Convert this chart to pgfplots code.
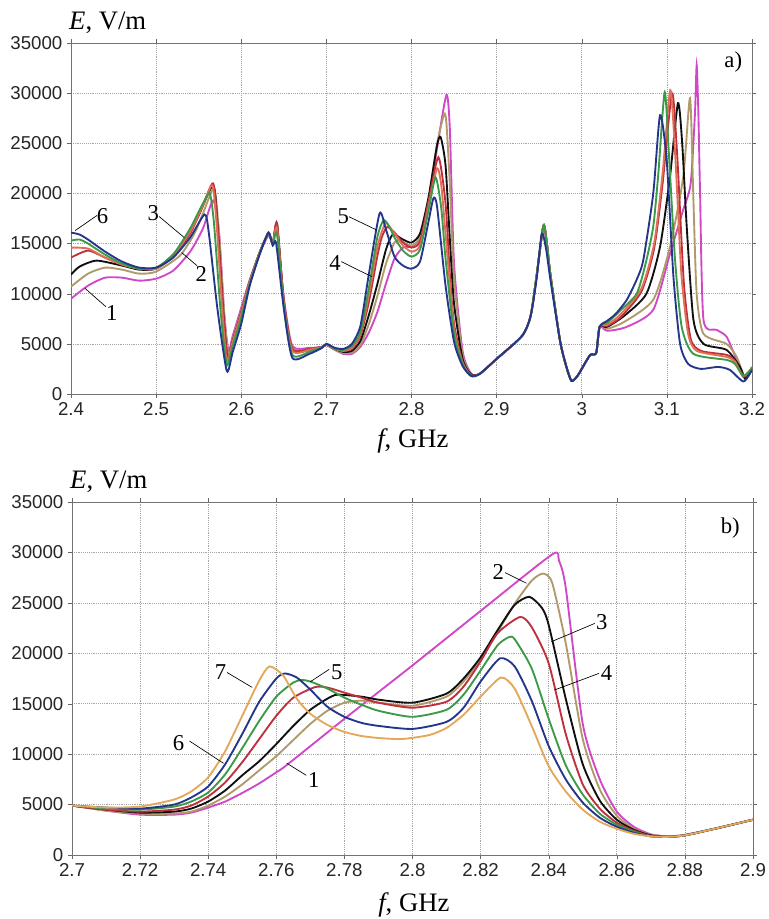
\documentclass[border=0pt]{standalone}
\usepackage{fontspec}
\setmainfont{Liberation Serif}
\newfontfamily\arial{Liberation Sans}
\usepackage{pgfplots}
\pgfplotsset{compat=1.18}

\definecolor{cmag}{HTML}{D048C8}
\definecolor{ckha}{HTML}{B09A6A}
\definecolor{cblk}{HTML}{101010}
\definecolor{cred}{HTML}{C0303C}
\definecolor{csal}{HTML}{E07058}
\definecolor{cgrn}{HTML}{3A9A48}
\definecolor{cblu}{HTML}{24358C}
\definecolor{cora}{HTML}{E4A85A}

\pgfplotsset{
  panel/.style={
    scale only axis, anchor=south west, width=510.75pt,
    clip mode=individual,
    axis line style={black!55, line width=0.7pt},
    grid=major, grid style={densely dotted, black!35, line width=0.5pt},
    tick align=outside, major tick length=3pt, tick style={black!60},
    ticklabel style={font=\arial\fontsize{14}{14}\selectfont, text=black!85},
    /pgf/number format/assume math mode=true,
    /pgf/number format/1000 sep={},
    scaled ticks=false,
    ymin=0, ymax=35000, ytick={0,5000,...,35000},
  },
  curve/.style={line width=1.4pt, smooth, tension=0.4, mark=none},
}
\tikzset{
  lab/.style={font=\fontsize{17}{17}\selectfont, inner sep=0pt},
  albl/.style={font=\fontsize{20}{20}\selectfont, inner sep=0pt},
  lead/.style={black, line width=0.5pt},
}

\begin{document}
\begin{tikzpicture}
\path[use as bounding box] (0,0) rectangle (576pt,689.25pt);

% ---------------- a) ----------------
\begin{axis}[panel, at={(53.25pt,393.75pt)}, height=263.25pt,
  xmin=2.4, xmax=3.2, xtick={2.4,2.5,2.6,2.7,2.8,2.9,3.0,3.1,3.2}]

% 1
\addplot[curve, cmag] coordinates {
(2.40,9500)(2.42,10800)(2.44,11600)(2.46,11600)(2.48,11300)(2.50,11500)(2.52,12300)(2.54,14200)(2.555,16500)(2.567,19300)(2.574,16000)(2.58,8000)(2.585,4300)(2.59,5800)(2.60,8600)(2.61,11400)(2.622,14100)(2.632,15800)(2.637,15000)(2.642,16200)(2.65,9600)(2.66,4800)(2.68,4600)(2.695,4700)(2.70,4900)(2.71,4400)(2.72,4000)(2.73,4000)(2.74,4700)(2.75,6150)(2.76,8200)(2.77,11000)(2.78,13500)(2.79,14600)(2.80,14700)(2.81,15500)(2.82,19000)(2.83,24500)(2.841,29800)(2.845,26500)(2.85,13000)(2.86,4300)(2.87,2050)(2.88,2000)(2.90,3500)(2.93,5800)(2.94,7800)(2.947,11800)(2.955,16800)(2.959,15000)(2.963,12000)(2.9745,5300)(2.982,2700)(2.988,1300)(2.995,1800)(3.002,2800)(3.01,3900)(3.017,4100)(3.021,6700)(3.03,6300)(3.053,6700)(3.084,8400)(3.1037,14000)(3.1193,18400)(3.128,21000)(3.133,28000)(3.135,32800)(3.137,28000)(3.139,20000)(3.143,7400)(3.1585,6400)(3.1702,5700)(3.182,3400)(3.192,1600)(3.20,2700)
};
% 2
\addplot[curve, ckha] coordinates {
(2.40,10700)(2.42,12000)(2.44,12600)(2.46,12400)(2.48,12000)(2.50,12200)(2.528,13800)(2.545,16000)(2.555,18000)(2.568,20500)(2.573,17000)(2.58,8000)(2.585,3800)(2.59,5500)(2.60,8300)(2.61,11300)(2.622,14200)(2.632,15900)(2.637,15000)(2.642,16800)(2.65,9400)(2.66,4600)(2.68,4500)(2.695,4700)(2.70,4900)(2.71,4400)(2.72,4100)(2.73,4100)(2.74,4900)(2.75,7000)(2.76,9800)(2.77,13000)(2.78,15100)(2.785,15300)(2.80,14800)(2.81,15700)(2.82,19400)(2.83,24900)(2.8383,27900)(2.841,27000)(2.845,21000)(2.85,11500)(2.86,3900)(2.87,2000)(2.88,2000)(2.90,3500)(2.93,5800)(2.94,7800)(2.947,11800)(2.955,16800)(2.959,15000)(2.963,12000)(2.9745,5300)(2.982,2700)(2.988,1300)(2.995,1800)(3.002,2800)(3.01,3900)(3.017,4100)(3.021,6700)(3.03,6500)(3.05,7200)(3.084,9400)(3.1037,14700)(3.1193,21700)(3.1272,29500)(3.1312,19300)(3.135,10000)(3.143,6000)(3.17,5000)(3.182,3700)(3.192,1600)(3.20,2700)
};
% 3
\addplot[curve, cblk] coordinates {
(2.40,11900)(2.41,12700)(2.43,13300)(2.46,12800)(2.48,12400)(2.50,12500)(2.52,13900)(2.535,15500)(2.55,17800)(2.567,20800)(2.572,17000)(2.579,8000)(2.584,3500)(2.59,5300)(2.60,8100)(2.61,11200)(2.622,14200)(2.632,16000)(2.637,15000)(2.642,17000)(2.65,9200)(2.66,4400)(2.68,4400)(2.695,4700)(2.70,4900)(2.71,4500)(2.72,4200)(2.73,4300)(2.74,5300)(2.75,7900)(2.76,11000)(2.77,14400)(2.778,15900)(2.79,15400)(2.80,15100)(2.81,16000)(2.82,19600)(2.83,24800)(2.8343,25600)(2.84,22800)(2.845,15500)(2.85,9000)(2.86,3500)(2.87,1950)(2.88,2000)(2.90,3500)(2.93,5800)(2.94,7800)(2.947,11800)(2.955,16800)(2.959,15000)(2.963,12000)(2.9745,5300)(2.982,2700)(2.988,1300)(2.995,1800)(3.002,2800)(3.01,3900)(3.017,4100)(3.021,6700)(3.03,6700)(3.05,7800)(3.076,10000)(3.092,14700)(3.1037,21700)(3.113,29000)(3.118,25000)(3.1233,16700)(3.1312,7400)(3.143,5000)(3.17,4400)(3.1858,2700)(3.192,1500)(3.20,2500)
};
% 4
\addplot[curve, cred] coordinates {
(2.40,13600)(2.42,14300)(2.44,13600)(2.46,12900)(2.48,12500)(2.50,12500)(2.52,13700)(2.54,16000)(2.555,18800)(2.567,21000)(2.572,17000)(2.579,8000)(2.584,3500)(2.59,5300)(2.60,8100)(2.61,11200)(2.622,14200)(2.632,16000)(2.637,15000)(2.642,17000)(2.65,9200)(2.66,4500)(2.68,4500)(2.695,4700)(2.70,4900)(2.71,4500)(2.72,4300)(2.73,4500)(2.74,5800)(2.75,9200)(2.76,13800)(2.765,15600)(2.7714,16650)(2.78,16100)(2.79,15100)(2.80,14600)(2.81,15200)(2.82,19200)(2.8316,23600)(2.84,19000)(2.845,12000)(2.85,7000)(2.86,3200)(2.87,1900)(2.88,2000)(2.90,3500)(2.93,5800)(2.94,7800)(2.947,11800)(2.955,16800)(2.959,15000)(2.963,12000)(2.9745,5300)(2.982,2700)(2.988,1300)(2.995,1800)(3.002,2800)(3.01,3900)(3.017,4100)(3.021,6700)(3.03,6800)(3.045,7600)(3.07,10200)(3.085,14500)(3.095,21000)(3.106,30000)(3.112,24000)(3.12,11000)(3.128,5500)(3.14,4300)(3.17,3900)(3.18,3300)(3.19,1700)(3.20,2600)
};
% extra curve
\addplot[curve, csal] coordinates {
(2.40,14600)(2.42,14500)(2.44,13600)(2.46,12900)(2.48,12500)(2.50,12500)(2.52,13800)(2.54,16200)(2.555,18800)(2.566,20800)(2.571,17000)(2.578,8000)(2.583,3300)(2.59,5200)(2.60,8000)(2.61,11200)(2.622,14200)(2.632,16000)(2.637,15000)(2.642,16500)(2.65,9000)(2.66,4300)(2.68,4400)(2.695,4700)(2.70,4900)(2.71,4500)(2.72,4300)(2.73,4600)(2.74,6000)(2.75,9900)(2.76,14700)(2.769,17000)(2.775,16600)(2.78,16000)(2.79,14800)(2.80,14200)(2.81,14800)(2.82,18700)(2.83,22500)(2.835,20800)(2.84,16000)(2.85,6500)(2.86,3100)(2.87,1800)(2.88,2000)(2.90,3500)(2.93,5800)(2.94,7800)(2.947,11800)(2.955,16800)(2.959,15000)(2.963,12000)(2.9745,5300)(2.982,2700)(2.988,1300)(2.995,1800)(3.002,2800)(3.01,3900)(3.017,4100)(3.021,6700)(3.03,6900)(3.045,7900)(3.07,10500)(3.085,15000)(3.095,22000)(3.104,30300)(3.11,23500)(3.117,12000)(3.125,6000)(3.135,4300)(3.17,3700)(3.18,3200)(3.19,1800)(3.20,2600)
};
% 5
\addplot[curve, cgrn] coordinates {
(2.40,15300)(2.41,15400)(2.42,15000)(2.44,13900)(2.46,13000)(2.48,12500)(2.50,12600)(2.52,13900)(2.54,16500)(2.555,19000)(2.563,20000)(2.568,17000)(2.576,8000)(2.583,2900)(2.59,4800)(2.60,7600)(2.61,11000)(2.622,14100)(2.632,16100)(2.637,14900)(2.642,16000)(2.65,8800)(2.66,3900)(2.68,4200)(2.695,4700)(2.70,5000)(2.71,4500)(2.72,4400)(2.73,4800)(2.74,6200)(2.75,10600)(2.76,15700)(2.7675,17350)(2.775,16500)(2.78,15600)(2.79,14300)(2.80,13700)(2.81,14400)(2.82,18300)(2.8283,21600)(2.835,18500)(2.84,13500)(2.85,6000)(2.86,3000)(2.87,1800)(2.88,2000)(2.90,3500)(2.93,5800)(2.94,7800)(2.947,11800)(2.955,16800)(2.959,15000)(2.963,12000)(2.9745,5300)(2.982,2700)(2.988,1300)(2.995,1800)(3.002,2800)(3.01,3900)(3.017,4100)(3.021,6700)(3.03,7100)(3.045,8300)(3.0645,10000)(3.075,13000)(3.084,16700)(3.09,22000)(3.0975,30100)(3.103,23000)(3.1096,13400)(3.1174,6700)(3.1312,4000)(3.17,3400)(3.18,3000)(3.19,1800)(3.20,2600)
};
% 6
\addplot[curve, cblu] coordinates {
(2.40,16100)(2.41,15900)(2.42,15400)(2.44,14200)(2.46,13200)(2.48,12600)(2.50,12600)(2.52,13600)(2.54,15600)(2.557,17900)(2.562,16000)(2.572,8500)(2.583,2300)(2.59,4200)(2.60,7000)(2.61,10800)(2.622,14000)(2.632,16100)(2.637,14800)(2.641,15000)(2.65,8500)(2.66,3600)(2.68,4000)(2.695,4600)(2.70,5000)(2.71,4600)(2.72,4500)(2.73,5000)(2.74,6800)(2.75,12000)(2.7625,18000)(2.77,16400)(2.78,13700)(2.79,12800)(2.80,12500)(2.81,13200)(2.82,17200)(2.8257,19500)(2.83,18700)(2.84,10800)(2.85,5200)(2.86,2800)(2.87,1800)(2.88,2000)(2.90,3500)(2.93,5800)(2.94,7800)(2.947,11500)(2.953,16000)(2.958,14500)(2.963,11500)(2.9745,5300)(2.982,2700)(2.988,1300)(2.995,1800)(3.002,2800)(3.01,3900)(3.017,4100)(3.021,6700)(3.03,7300)(3.04,8000)(3.053,9400)(3.065,11500)(3.0724,13400)(3.084,20000)(3.092,27800)(3.0998,23300)(3.1077,11700)(3.1155,5000)(3.125,3000)(3.14,2500)(3.16,2700)(3.174,2400)(3.19,1250)(3.20,2400)
};

\node[lab] at (axis cs:2.437,17700) {6};
\draw[lead] (axis cs:2.405,16300) -- (axis cs:2.4305,17800);
\node[lab] at (axis cs:2.4478,8050) {1};
\draw[lead] (axis cs:2.4164,10540) -- (axis cs:2.441,8700);
\node[lab] at (axis cs:2.4967,18020) {3};
\draw[lead] (axis cs:2.5035,17700) -- (axis cs:2.533,15600);
\node[lab] at (axis cs:2.553,11950) {2};
\draw[lead] (axis cs:2.548,12800) -- (axis cs:2.53,14100);
\node[lab] at (axis cs:2.72,17680) {5};
\draw[lead] (axis cs:2.7265,17680) -- (axis cs:2.7591,16350);
\node[lab] at (axis cs:2.7101,13030) {4};
\draw[lead] (axis cs:2.7175,13200) -- (axis cs:2.7532,11700);
\node[lab] at (axis cs:3.178,33140) {a)};

\node[albl, anchor=base west, yshift=10pt] at (rel axis cs:-0.003,1) {\textit{E}, V/m};
\node[albl, anchor=base, yshift=-40pt] at (rel axis cs:0.502,0) {\textit{f}, GHz};
\end{axis}

% ---------------- b) ----------------
\begin{axis}[panel, at={(54pt,48pt)}, height=264.75pt,
  xmin=2.7, xmax=2.9, xtick={2.7,2.72,2.74,2.76,2.78,2.8,2.82,2.84,2.86,2.88,2.9}]

% 1
\addplot[curve, cmag] coordinates {
(2.70,4900)(2.71,4400)(2.72,4000)(2.73,4000)(2.735,4200)(2.74,4700)(2.745,5300)(2.75,6150)(2.755,7100)(2.76,8200)(2.763,8900)(2.78,13500)(2.80,18800)(2.82,24200)(2.841,29800)(2.843,29200)(2.845,26500)(2.85,13000)(2.855,7500)(2.86,4300)(2.865,2800)(2.87,2050)(2.875,1850)(2.88,2000)(2.89,2700)(2.90,3500)
};
% 2
\addplot[curve, ckha] coordinates {
(2.70,4900)(2.71,4400)(2.72,4100)(2.73,4100)(2.735,4300)(2.74,4900)(2.745,5800)(2.75,7000)(2.755,8400)(2.76,9800)(2.765,11400)(2.77,13000)(2.775,14300)(2.78,15100)(2.785,15300)(2.79,15100)(2.80,14800)(2.81,15700)(2.815,17200)(2.82,19400)(2.825,22100)(2.83,24900)(2.835,27200)(2.8383,27900)(2.841,27000)(2.845,21000)(2.85,11500)(2.855,6500)(2.86,3900)(2.865,2600)(2.87,2000)(2.875,1850)(2.88,2000)(2.89,2700)(2.90,3500)
};
% 3
\addplot[curve, cblk] coordinates {
(2.70,4900)(2.71,4500)(2.72,4200)(2.73,4300)(2.735,4600)(2.74,5300)(2.745,6400)(2.75,7900)(2.755,9300)(2.76,11000)(2.765,12800)(2.77,14400)(2.775,15500)(2.778,15900)(2.785,15700)(2.79,15400)(2.80,15100)(2.81,16000)(2.815,17500)(2.82,19600)(2.825,22300)(2.83,24800)(2.8343,25600)(2.838,24500)(2.84,22800)(2.845,15500)(2.85,9000)(2.855,5400)(2.86,3500)(2.865,2500)(2.87,1950)(2.875,1800)(2.88,1950)(2.89,2700)(2.90,3500)
};
% 4
\addplot[curve, cred] coordinates {
(2.70,4900)(2.71,4500)(2.72,4300)(2.73,4500)(2.735,4900)(2.74,5800)(2.745,7200)(2.75,9200)(2.755,11500)(2.76,13800)(2.765,15600)(2.7714,16650)(2.775,16600)(2.78,16100)(2.785,15600)(2.79,15100)(2.80,14600)(2.81,15200)(2.815,16700)(2.82,19200)(2.825,22000)(2.8316,23600)(2.835,22600)(2.84,19000)(2.845,12000)(2.85,7000)(2.855,4600)(2.86,3200)(2.865,2400)(2.87,1900)(2.875,1800)(2.88,1950)(2.89,2700)(2.90,3500)
};
% 5
\addplot[curve, cgrn] coordinates {
(2.70,4900)(2.71,4600)(2.72,4500)(2.73,4800)(2.735,5300)(2.74,6200)(2.745,8000)(2.75,10600)(2.755,13300)(2.76,15700)(2.765,17100)(2.7675,17350)(2.77,17200)(2.775,16500)(2.78,15600)(2.785,14900)(2.79,14300)(2.80,13700)(2.81,14400)(2.815,15900)(2.82,18300)(2.825,20800)(2.8283,21600)(2.83,21400)(2.835,18500)(2.84,13500)(2.845,8900)(2.85,6000)(2.855,4100)(2.86,3000)(2.865,2300)(2.87,1850)(2.875,1800)(2.88,1950)(2.89,2700)(2.90,3500)
};
% 6
\addplot[curve, cblu] coordinates {
(2.70,4900)(2.71,4700)(2.72,4600)(2.73,5000)(2.735,5700)(2.74,6800)(2.745,9000)(2.75,12000)(2.755,15200)(2.76,17500)(2.7625,18000)(2.766,17600)(2.77,16400)(2.775,14700)(2.78,13700)(2.785,13100)(2.79,12800)(2.80,12500)(2.81,13200)(2.815,14600)(2.82,17200)(2.8257,19500)(2.83,18700)(2.835,15300)(2.84,10800)(2.845,7500)(2.85,5200)(2.855,3700)(2.86,2800)(2.865,2200)(2.87,1850)(2.875,1800)(2.88,1950)(2.89,2700)(2.90,3500)
};
% 7
\addplot[curve, cora] coordinates {
(2.70,4900)(2.71,4700)(2.72,4800)(2.73,5500)(2.735,6300)(2.74,7700)(2.745,10300)(2.75,13800)(2.755,17300)(2.758,18700)(2.762,17800)(2.766,15500)(2.77,14000)(2.775,12900)(2.78,12200)(2.785,11800)(2.79,11600)(2.797,11500)(2.805,11900)(2.81,12600)(2.815,13900)(2.82,15700)(2.826,17600)(2.83,16500)(2.835,12800)(2.84,8800)(2.845,6300)(2.85,4500)(2.855,3300)(2.86,2600)(2.865,2100)(2.87,1850)(2.875,1800)(2.88,1950)(2.89,2700)(2.90,3500)
};

\node[lab] at (axis cs:2.7436,18170) {7};
\draw[lead] (axis cs:2.7455,18100) -- (axis cs:2.7529,16620);
\node[lab] at (axis cs:2.7313,11070) {6};
\draw[lead] (axis cs:2.7345,11300) -- (axis cs:2.7445,9090);
\node[lab] at (axis cs:2.7778,18170) {5};
\draw[lead] (axis cs:2.7755,18400) -- (axis cs:2.77,17180);
\node[lab] at (axis cs:2.771,7430) {1};
\draw[lead] (axis cs:2.7688,7900) -- (axis cs:2.7631,9090);
\node[lab] at (axis cs:2.8252,28090) {2};
\draw[lead] (axis cs:2.8272,28000) -- (axis cs:2.8335,26940);
\node[lab] at (axis cs:2.8556,23130) {3};
\draw[lead] (axis cs:2.8535,22960) -- (axis cs:2.8408,21150);
\node[lab] at (axis cs:2.857,18010) {4};
\draw[lead] (axis cs:2.8548,18010) -- (axis cs:2.8417,16360);
\node[lab] at (axis cs:2.8933,32390) {b)};

\node[albl, anchor=base west, yshift=10pt] at (rel axis cs:-0.003,1) {\textit{E}, V/m};
\node[albl, anchor=base, yshift=-42pt] at (rel axis cs:0.502,0) {\textit{f}, GHz};
\end{axis}
\end{tikzpicture}
\end{document}
